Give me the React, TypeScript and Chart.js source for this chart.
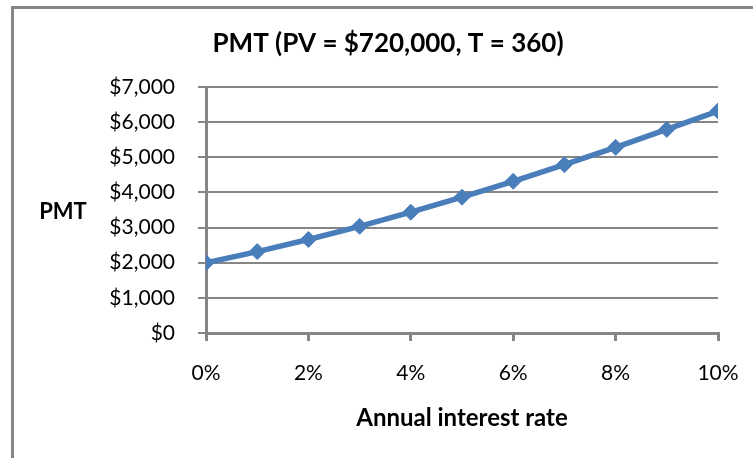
import React, { useEffect, useRef } from "react";
import { Chart, registerables } from "chart.js";

Chart.register(...registerables);

const chartTitle = "PMT (PV = $720,000, T = 360)";
const xAxisTitle = "Annual interest rate";
const yAxisTitle = "PMT";
const rates = [0, 1, 2, 3, 4, 5, 6, 7, 8, 9, 10];
const payments = [2000, 2316, 2661, 3036, 3437, 3865, 4317, 4790, 5283, 5793, 6318];
const yMin = 0;
const yMax = 7000;
const yStep = 1000;
const xStep = 2;

const GRAY = "#868686";
const BLUE = "#4A7EBB";
const FONT = "Lato, 'Open Sans', sans-serif";

export default function App() {
  const ref = useRef<HTMLCanvasElement | null>(null);

  useEffect(() => {
    if (!ref.current) return;
    const textPlugin = {
      id: "texts",
      beforeDraw(chart: any) {
        const ctx = chart.ctx;
        ctx.save();
        ctx.strokeStyle = GRAY;
        ctx.lineWidth = 3;
        ctx.beginPath();
        ctx.moveTo(12.5, 470);
        ctx.lineTo(12.5, 7.5);
        ctx.lineTo(770, 7.5);
        ctx.stroke();
        ctx.restore();
      },
      afterDraw(chart: any) {
        const ctx = chart.ctx;
        ctx.save();
        ctx.fillStyle = "#000";
        ctx.textAlign = "center";
        ctx.textBaseline = "middle";
        ctx.font = `bold 26px ${FONT}`;
        ctx.fillText(chartTitle, 388, 44);
        ctx.font = `bold 22px ${FONT}`;
        ctx.fillText(yAxisTitle, 63, 212);
        ctx.font = `bold 24px ${FONT}`;
        ctx.fillText(xAxisTitle, 462, 418);
        ctx.restore();
      },
    };

    const chart = new Chart(ref.current, {
      type: "line",
      data: {
        datasets: [
          {
            data: rates.map((r, i) => ({ x: r, y: payments[i] })),
            borderColor: BLUE,
            backgroundColor: BLUE,
            borderWidth: 5.5,
            pointStyle: "rectRot",
            pointRadius: 8,
            pointBorderWidth: 1,
            pointBorderColor: BLUE,
            pointBackgroundColor: BLUE,
            tension: 0,
          },
        ],
      },
      options: {
        animation: false,
        responsive: false,
        maintainAspectRatio: false,
        layout: { padding: { top: 87, right: 35, left: 0, bottom: 0 } },
        plugins: {
          legend: { display: false },
          title: { display: false },
          tooltip: { enabled: false },
        },
        scales: {
          x: {
            type: "linear",
            min: 0,
            max: 10,
            afterFit(scale: any) {
              scale.height = 125;
              scale.paddingLeft = 0;
              scale.paddingRight = 0;
            },
            ticks: {
              stepSize: xStep,
              color: "#000",
              font: { family: FONT, size: 21 },
              padding: 20,
              maxRotation: 0,
              callback: (v: any) => `${v}%`,
            },
            grid: {
              drawOnChartArea: false,
              drawTicks: true,
              tickLength: 8,
              color: GRAY,
              lineWidth: 3,
            },
            border: { display: true, color: GRAY, width: 3 },
          },
          y: {
            type: "linear",
            min: yMin,
            max: yMax,
            afterFit(scale: any) {
              scale.width = 206;
              scale.paddingTop = 0;
              scale.paddingBottom = 0;
            },
            ticks: {
              stepSize: yStep,
              color: "#000",
              font: { family: FONT, size: 21 },
              padding: 23,
              callback: (v: any) => "$" + Number(v).toLocaleString("en-US"),
            },
            grid: {
              drawTicks: true,
              tickLength: 8,
              color: GRAY,
              lineWidth: 2,
            },
            border: { display: true, color: GRAY, width: 3 },
          },
        },
      },
      plugins: [textPlugin],
    } as any);
    return () => chart.destroy();
  }, []);

  return (
    <div style={{ position: "fixed", left: 0, top: 0, width: 753, height: 458, background: "#fff" }}>
      <canvas ref={ref} width={753} height={458} style={{ width: 753, height: 458 }} />
    </div>
  );
}
